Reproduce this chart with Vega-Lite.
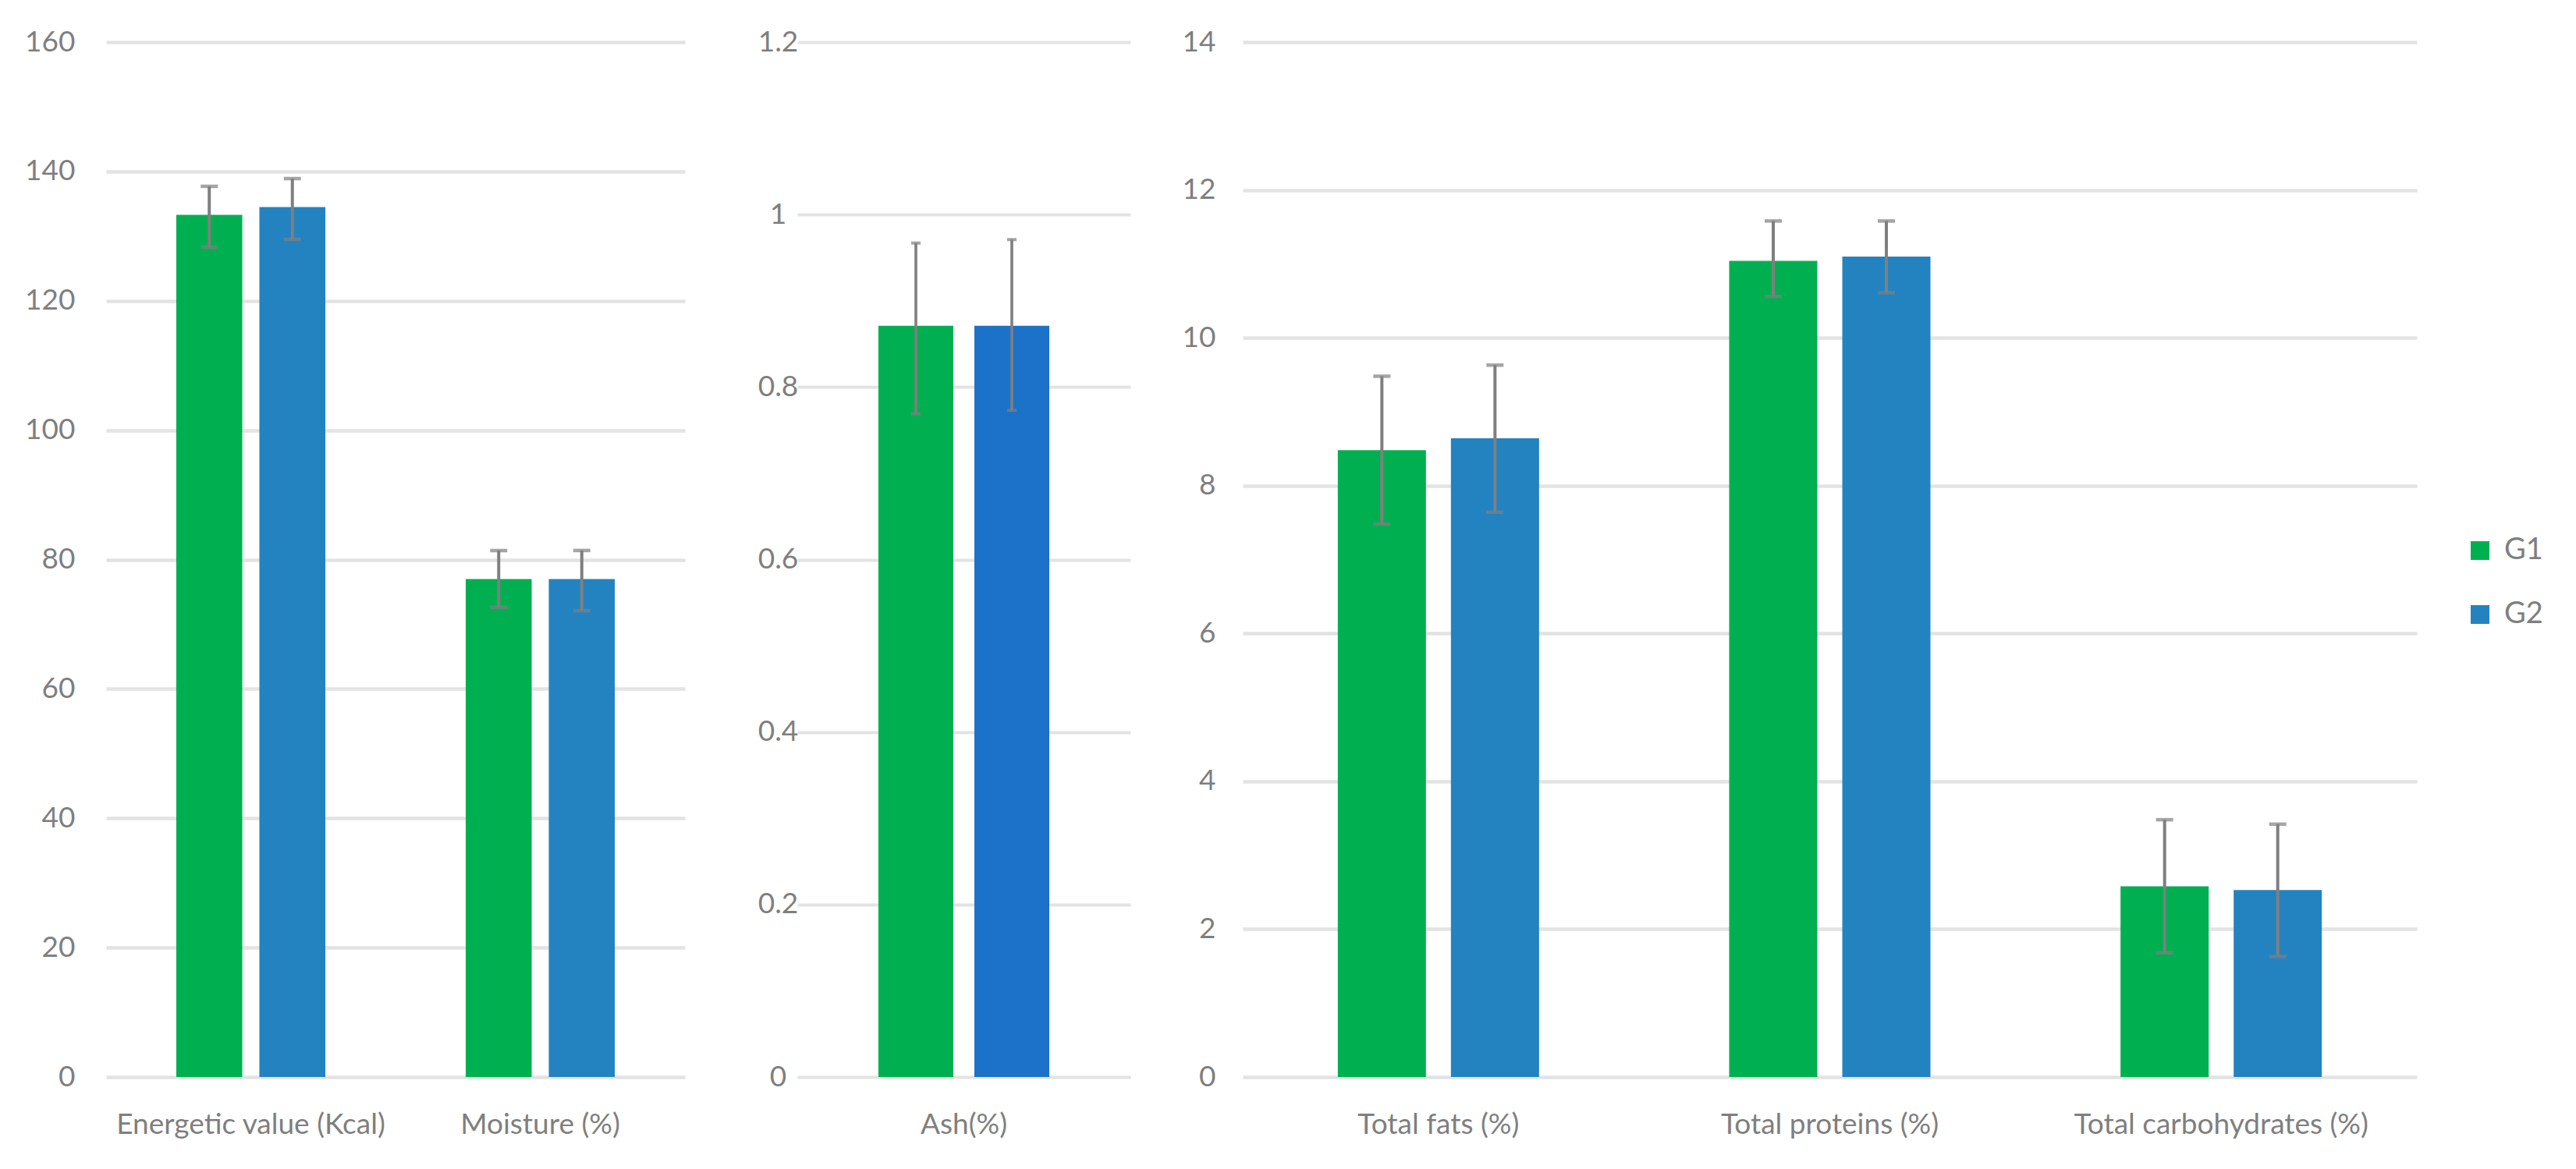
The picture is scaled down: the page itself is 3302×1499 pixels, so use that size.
{
  "$schema": "https://vega.github.io/schema/vega-lite/v6.json",
  "autosize": {"type": "pad"},
  "padding": {"left": 31, "top": 35, "right": 5, "bottom": 5},
  "background": "white",
  "data": {"values": [
    {"panel": "A", "item": "Energetic value (Kcal)", "grp": "G1", "value": 133.3, "lo": 128.3, "hi": 137.7},
    {"panel": "A", "item": "Energetic value (Kcal)", "grp": "G2", "value": 134.5, "lo": 129.5, "hi": 138.9},
    {"panel": "A", "item": "Moisture (%)", "grp": "G1", "value": 77.0, "lo": 72.6, "hi": 81.4},
    {"panel": "A", "item": "Moisture (%)", "grp": "G2", "value": 77.0, "lo": 72.1, "hi": 81.4},
    {"panel": "B", "item": "Ash(%)", "grp": "G1", "value": 0.871, "lo": 0.769, "hi": 0.967},
    {"panel": "B", "item": "Ash(%)", "grp": "G2", "value": 0.871, "lo": 0.773, "hi": 0.971},
    {"panel": "C", "item": "Total fats (%)", "grp": "G1", "value": 8.48, "lo": 7.48, "hi": 9.48},
    {"panel": "C", "item": "Total fats (%)", "grp": "G2", "value": 8.64, "lo": 7.64, "hi": 9.63},
    {"panel": "C", "item": "Total proteins (%)", "grp": "G1", "value": 11.04, "lo": 10.56, "hi": 11.58},
    {"panel": "C", "item": "Total proteins (%)", "grp": "G2", "value": 11.10, "lo": 10.61, "hi": 11.58},
    {"panel": "C", "item": "Total carbohydrates (%)", "grp": "G1", "value": 2.58, "lo": 1.68, "hi": 3.48},
    {"panel": "C", "item": "Total carbohydrates (%)", "grp": "G2", "value": 2.53, "lo": 1.63, "hi": 3.42}
  ]},
  "bounds": "flush",
  "spacing": 144,
  "resolve": {"scale": {"x": "independent", "y": "independent", "color": "independent", "xOffset": "independent"}},
  "hconcat": [
    {
      "width": 742,
      "height": 1327,
      "transform": [{"filter": "datum.panel === 'A'"}],
      "encoding": {
        "x": {"field": "item", "type": "nominal", "sort": null, "scale": {"paddingInner": 0.485, "paddingOuter": 0.2425},
              "axis": {"title": null, "domain": false, "ticks": false, "tickSize": 0, "labelAngle": 0, "labelFontSize": 37, "labelColor": "#7f7f7f", "labelPadding": 43, "labelLimit": 2000, "labelOverlap": false}},
        "xOffset": {"field": "grp", "type": "nominal", "scale": {"paddingInner": 0.206, "paddingOuter": 0}}
      },
      "layer": [
        {"mark": {"type": "bar"},
         "encoding": {
           "y": {"field": "value", "type": "quantitative", "scale": {"domain": [0, 160], "nice": false},
                 "axis": {"title": null, "values": [0, 20, 40, 60, 80, 100, 120, 140, 160], "format": "~g", "grid": true, "gridColor": "#e3e3e3", "gridWidth": 4.5, "domain": false, "ticks": false, "tickSize": 0, "labelFontSize": 37, "labelColor": "#7f7f7f", "labelPadding": 40}},
           "color": {"field": "grp", "type": "nominal", "scale": {"domain": ["G1", "G2"], "range": ["#00B050", "#2383C1"]}, "legend": null}
         }},
        {"mark": {"type": "rule", "color": "#7f7f7f", "strokeWidth": 4},
         "encoding": {"y": {"field": "lo", "type": "quantitative"}, "y2": {"field": "hi"}}},
        {"mark": {"type": "tick", "color": "#7f7f7f", "size": 22, "thickness": 4.5, "orient": "horizontal"},
         "encoding": {"y": {"field": "lo", "type": "quantitative"}}},
        {"mark": {"type": "tick", "color": "#7f7f7f", "size": 22, "thickness": 4.5, "orient": "horizontal"},
         "encoding": {"y": {"field": "hi", "type": "quantitative"}}}
      ]
    },
    {
      "width": 427,
      "height": 1327,
      "transform": [{"filter": "datum.panel === 'B'"}],
      "encoding": {
        "x": {"field": "item", "type": "nominal", "sort": null, "scale": {"paddingInner": 0.487, "paddingOuter": 0.2435},
              "axis": {"title": null, "domain": false, "ticks": false, "tickSize": 0, "labelAngle": 0, "labelFontSize": 37, "labelColor": "#7f7f7f", "labelPadding": 43, "labelLimit": 2000, "labelOverlap": false}},
        "xOffset": {"field": "grp", "type": "nominal", "scale": {"paddingInner": 0.219, "paddingOuter": 0}}
      },
      "layer": [
        {"mark": {"type": "bar"},
         "encoding": {
           "y": {"field": "value", "type": "quantitative", "scale": {"domain": [0, 1.2], "nice": false},
                 "axis": {"title": null, "values": [0, 0.2, 0.4, 0.6, 0.8, 1, 1.2], "format": "~g", "grid": true, "gridColor": "#e3e3e3", "gridWidth": 4, "domain": false, "ticks": false, "tickSize": 0, "labelFontSize": 37, "labelColor": "#7f7f7f", "labelPadding": 25, "labelAlign": "center"}},
           "color": {"field": "grp", "type": "nominal", "scale": {"domain": ["G1", "G2"], "range": ["#00B050", "#1B72C8"]}, "legend": null}
         }},
        {"mark": {"type": "rule", "color": "#7f7f7f", "strokeWidth": 3.6},
         "encoding": {"y": {"field": "lo", "type": "quantitative"}, "y2": {"field": "hi"}}},
        {"mark": {"type": "tick", "color": "#7f7f7f", "size": 12, "thickness": 4, "orient": "horizontal"},
         "encoding": {"y": {"field": "lo", "type": "quantitative"}}},
        {"mark": {"type": "tick", "color": "#7f7f7f", "size": 12, "thickness": 4, "orient": "horizontal"},
         "encoding": {"y": {"field": "hi", "type": "quantitative"}}}
      ]
    },
    {
      "width": 1505,
      "height": 1327,
      "transform": [{"filter": "datum.panel === 'C'"}],
      "encoding": {
        "x": {"field": "item", "type": "nominal", "sort": null, "scale": {"paddingInner": 0.4857, "paddingOuter": 0.24285},
              "axis": {"title": null, "domain": false, "ticks": false, "tickSize": 0, "labelAngle": 0, "labelFontSize": 37, "labelColor": "#7f7f7f", "labelPadding": 43, "labelLimit": 2000, "labelOverlap": false}},
        "xOffset": {"field": "grp", "type": "nominal", "scale": {"paddingInner": 0.2207, "paddingOuter": 0}}
      },
      "layer": [
        {"mark": {"type": "bar"},
         "encoding": {
           "y": {"field": "value", "type": "quantitative", "scale": {"domain": [0, 14], "nice": false},
                 "axis": {"title": null, "values": [0, 2, 4, 6, 8, 10, 12, 14], "format": "~g", "grid": true, "gridColor": "#e3e3e3", "gridWidth": 4.5, "domain": false, "ticks": false, "tickSize": 0, "labelFontSize": 37, "labelColor": "#7f7f7f", "labelPadding": 35}},
           "color": {"field": "grp", "type": "nominal", "scale": {"domain": ["G1", "G2"], "range": ["#00B050", "#2383C1"]},
                     "legend": {"title": null, "orient": "none", "legendX": 1567, "legendY": 633, "symbolType": "square", "symbolSize": 576, "symbolStrokeWidth": 0, "labelFontSize": 38, "labelColor": "#7f7f7f", "rowPadding": 44, "labelOffset": 12, "padding": 0}}
         }},
        {"mark": {"type": "rule", "color": "#7f7f7f", "strokeWidth": 4},
         "encoding": {"y": {"field": "lo", "type": "quantitative"}, "y2": {"field": "hi"}}},
        {"mark": {"type": "tick", "color": "#7f7f7f", "size": 22, "thickness": 4.5, "orient": "horizontal"},
         "encoding": {"y": {"field": "lo", "type": "quantitative"}}},
        {"mark": {"type": "tick", "color": "#7f7f7f", "size": 22, "thickness": 4.5, "orient": "horizontal"},
         "encoding": {"y": {"field": "hi", "type": "quantitative"}}}
      ]
    }
  ],
  "config": {
    "font": "Lato",
    "view": {"stroke": null},
    "legend": {"symbolOpacity": 1}
  }
}
